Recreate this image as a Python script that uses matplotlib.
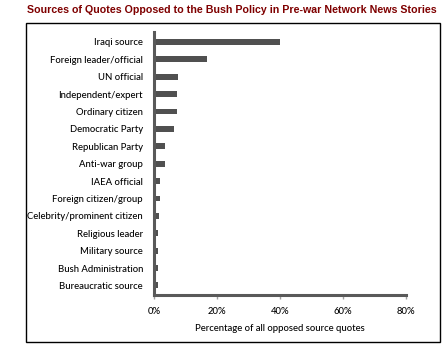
import matplotlib
matplotlib.use("Agg")
import matplotlib.pyplot as plt
from matplotlib.patches import Rectangle

sources = [
    "Iraqi source", "Foreign leader/official", "UN official", "Independent/expert",
    "Ordinary citizen", "Democratic Party", "Republican Party", "Anti-war group",
    "IAEA official", "Foreign citizen/group", "Celebrity/prominent citizen",
    "Religious leader", "Military source", "Bush Administration", "Bureaucratic source",
]
pct = [40.0, 16.8, 7.6, 7.3, 7.3, 6.3, 3.5, 3.2, 1.9, 1.9, 1.3, 1.0, 1.0, 1.0, 1.0]
xticks = [0, 20, 40, 60, 80]

plt.rcParams["font.family"] = ["Lato", "DejaVu Sans"]

fig = plt.figure(figsize=(4.46, 3.54), dpi=100)
ax = fig.add_axes([154 / 446, 1 - 295 / 354, 252 / 446, 263 / 354])

gray = "#595959"
ax.barh(range(len(sources)), pct, height=0.34, color="#505050", left=0.15)

ax.set_xlim(0, 80)
ax.set_ylim(len(sources) - 0.45, -0.57)
ax.set_yticks(range(len(sources)))
ax.set_yticklabels(sources, fontsize=6.8, fontweight="medium")
ax.tick_params(axis="y", length=0, pad=8)
ax.set_xticks(xticks)
ax.set_xticklabels([f"{t}%" for t in xticks], fontsize=6.8, fontweight="medium")
ax.tick_params(axis="x", length=3, width=1, color="#a0a0a0", direction="out", pad=5.5)
ax.set_xlabel("Percentage of all opposed source quotes", fontsize=6.8,
              fontweight="medium", labelpad=6)

for s in ["top", "right"]:
    ax.spines[s].set_visible(False)
for s in ["left", "bottom"]:
    ax.spines[s].set_color(gray)
    ax.spines[s].set_linewidth(2.2)

fig.patches.append(Rectangle((26 / 446, 1 - 342 / 354), 414 / 446, 319 / 354,
                             transform=fig.transFigure, fill=False,
                             edgecolor="black", linewidth=1))

fig.text(232 / 446, 1 - 10 / 354,
         "Sources of Quotes Opposed to the Bush Policy in Pre-war Network News Stories",
         ha="center", va="center", fontsize=7.7, fontweight="bold",
         color="#7f0000", family="Liberation Sans")

fig.savefig("out.png", dpi=100)
